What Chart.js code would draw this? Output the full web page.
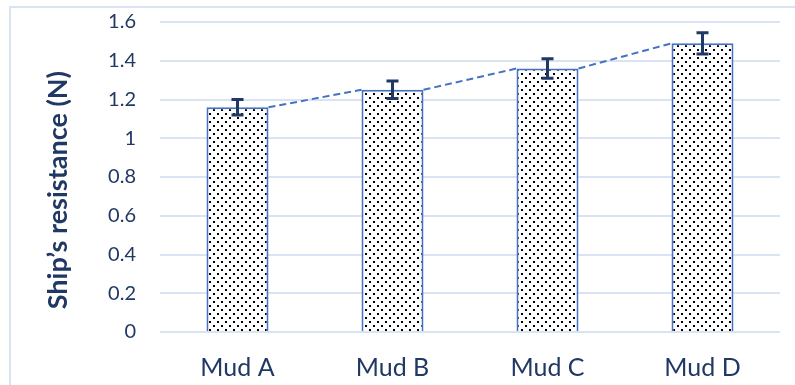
<!DOCTYPE html>
<html>
<head>
<meta charset="utf-8">
<script src="https://cdn.jsdelivr.net/npm/chart.js@4.4.1/dist/chart.umd.min.js"></script>
<style>
  body { margin: 0; background: #fff; overflow: hidden; }
  #frame { position: absolute; left: 9px; top: 6px; width: 900px; height: 500px; border: 2px solid #dae3f3; }
  #chart { position: absolute; left: 0; top: 0; }
</style>
</head>
<body>
<div id="frame"></div>
<canvas id="chart" width="795" height="385"></canvas>
<script>
// data
const categories = ["Mud A", "Mud B", "Mud C", "Mud D"];
const resistance = [1.16, 1.25, 1.36, 1.49];
const errors = [0.04, 0.045, 0.05, 0.055];
const yTickLabels = ["0", "0.2", "0.4", "0.6", "0.8", "1", "1.2", "1.4", "1.6"];

const textColor = "#203864";

// dotted fill like the excel pattern
function dotPattern() {
    const c = document.createElement("canvas");
    c.width = 8;
    c.height = 8;
    const g = c.getContext("2d");
    g.fillStyle = "#fff";
    g.fillRect(0, 0, 8, 8);
    g.fillStyle = "#000";
    g.fillRect(1, 1, 2, 2);
    g.fillRect(5, 5, 2, 2);
    return g.createPattern(c, "repeat");
}

// dashed lines from one bar top to the next one
const seriesLines = {
    id: "seriesLines",
    beforeDatasetsDraw(chart) {
        const bars = chart.getDatasetMeta(0).data;
        const ctx = chart.ctx;
        ctx.save();
        ctx.strokeStyle = "#4472c4";
        ctx.lineWidth = 2;
        ctx.setLineDash([7, 4]);
        for (let i = 0; i < bars.length - 1; i++) {
            const a = bars[i], b = bars[i + 1];
            ctx.beginPath();
            ctx.moveTo(a.x + a.width / 2, a.y);
            ctx.lineTo(b.x - b.width / 2, b.y);
            ctx.stroke();
        }
        ctx.restore();
    }
};

// error bars
const errorBars = {
    id: "errorBars",
    afterDatasetsDraw(chart) {
        const bars = chart.getDatasetMeta(0).data;
        const y = chart.scales.y;
        const ctx = chart.ctx;
        ctx.save();
        ctx.strokeStyle = "#1f3864";
        ctx.lineWidth = 3;
        bars.forEach((bar, i) => {
            const top = y.getPixelForValue(resistance[i] + errors[i]);
            const bot = y.getPixelForValue(resistance[i] - errors[i]);
            ctx.beginPath();
            ctx.moveTo(bar.x, top);
            ctx.lineTo(bar.x, bot);
            ctx.moveTo(bar.x - 6, top);
            ctx.lineTo(bar.x + 6, top);
            ctx.moveTo(bar.x - 6, bot);
            ctx.lineTo(bar.x + 6, bot);
            ctx.stroke();
        });
        ctx.restore();
    }
};

new Chart(document.getElementById("chart").getContext("2d"), {
    type: "bar",
    data: {
        labels: categories,
        datasets: [{
            data: resistance,
            backgroundColor: dotPattern(),
            borderColor: "#4472c4",
            borderWidth: 2,
            categoryPercentage: 1,
            barPercentage: 0.4
        }]
    },
    options: {
        responsive: false,
        devicePixelRatio: 1,
        animation: false,
        layout: { padding: { left: 40, top: 22, right: 15, bottom: 0 } },
        plugins: {
            legend: { display: false },
            tooltip: { enabled: false }
        },
        scales: {
            x: {
                grid: { display: false },
                border: { display: false },
                ticks: {
                    color: textColor,
                    font: { family: "Lato", size: 25 },
                    padding: 13
                },
                afterFit(scale) { scale.height = 53; }
            },
            y: {
                min: 0,
                max: 1.6,
                // invisible tick marks keep the gap between labels and grid
                grid: { color: "#dae3f3", lineWidth: 2, drawTicks: true, tickLength: 24, tickColor: "rgba(0,0,0,0)" },
                border: { display: false },
                ticks: {
                    stepSize: 0.2,
                    color: textColor,
                    font: { family: "Lato", size: 20 },
                    padding: 0,
                    callback: (v, i) => yTickLabels[i]
                },
                title: {
                    display: true,
                    // trailing spaces push the label a bit down like in the original
                    text: "Ship\u2019s resistance (N)    ",
                    color: textColor,
                    font: { family: "Lato", size: 27, weight: "bold" },
                    padding: { top: 2, bottom: 0 }
                },
                afterFit(scale) { scale.width = 120; }
            }
        }
    },
    plugins: [seriesLines, errorBars]
});
</script>
</body>
</html>
